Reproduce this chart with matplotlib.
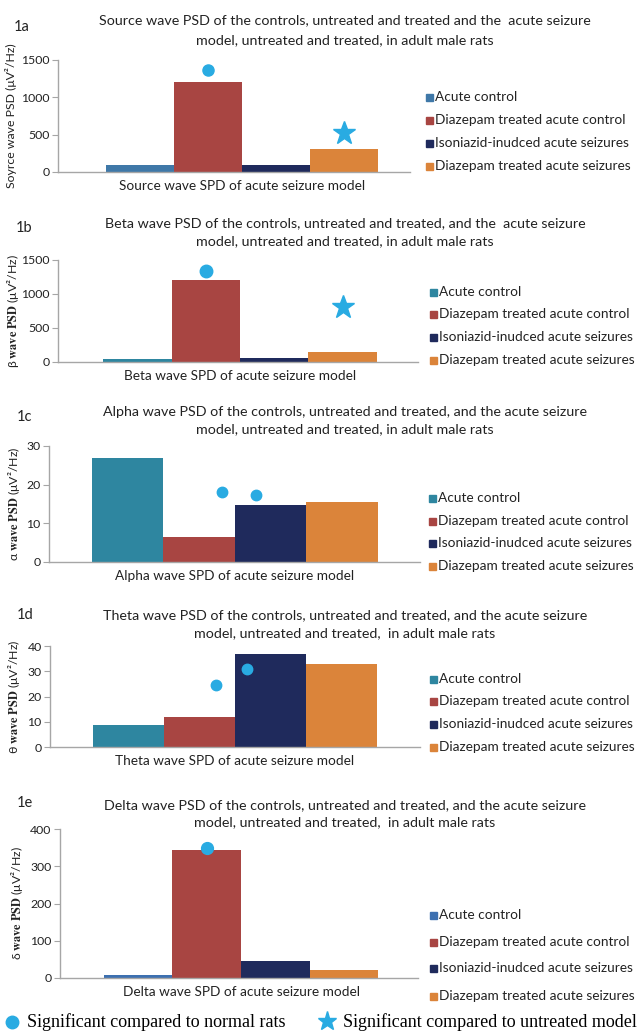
import matplotlib.pyplot as plt
from matplotlib.patches import Rectangle
from matplotlib.lines import Line2D

plt.rcParams['font.family'] = ['Lato', 'DejaVu Sans']
plt.rcParams['mathtext.fontset'] = 'stix'

# Data
groups = ['Acute control', 'Diazepam treated acute control',
          'Isoniazid-inudced acute seizures', 'Diazepam treated acute seizures']
source_psd = [95, 1210, 100, 305]
beta_psd = [40, 1205, 60, 145]
alpha_psd = [27.0, 6.4, 14.7, 15.5]
theta_psd = [8.6, 11.8, 36.7, 32.7]
delta_psd = [7, 344, 45, 21]

# significance markers: (bar position, marker height)
source_normal = [(1, 1365)]
source_untreated = [(3, 520)]
beta_normal = [(1, 1340)]
beta_untreated = [(3, 810)]
alpha_normal = [(1.32, 18.1), (1.79, 17.2)]
theta_normal = [(1.23, 24.4), (1.67, 31.0)]
delta_normal = [(1, 348)]

W, H = 637, 1035
fig = plt.figure(figsize=(W / 100, H / 100), dpi=100)

red, navy, orange = '#A84542', '#1F2A5C', '#DB843A'
sig_col = '#29ABE2'
grey = '#A6A6A6'
txt = '#222222'

panels = [
    dict(tag='1a', vals=source_psd, ymax=1500, step=500, first='#3F78A8',
         px=(58, 410, 60, 172), xlim=(-1.2, 3.97), title_y=(20, 40), tag_xy=(22, 27),
         title=['Source wave PSD of the controls, untreated and treated and the  acute seizure',
                'model, untreated and treated, in adult male rats'],
         ylabel='Soyrce wave PSD (μV²/Hz)', ylab_x=11,
         xlabel='Source wave SPD of acute seizure model',
         leg_y=[97, 120, 143, 166], leg_x=426,
         normal=source_normal, untreated=source_untreated, dot=8),
    dict(tag='1b', vals=beta_psd, ymax=1500, step=500, first='#2E86A0',
         px=(58, 418, 260, 362), xlim=(-1.16, 4.1), title_y=(223, 241), tag_xy=(24, 228),
         title=['Beta wave PSD of the controls, untreated and treated, and the  acute seizure',
                'model, untreated and treated, in adult male rats'],
         ylabel=r'β $\mathbf{wave\ PSD}$ (μV²/Hz)', ylab_x=13,
         xlabel='Beta wave SPD of acute seizure model',
         leg_y=[292, 314, 337, 360], leg_x=430,
         normal=beta_normal, untreated=beta_untreated, dot=9),
    dict(tag='1c', vals=alpha_psd, ymax=30, step=10, first='#2E86A0',
         px=(49, 420, 446, 562), xlim=(-1.1, 4.09), title_y=(412, 429), tag_xy=(25, 417),
         title=['Alpha wave PSD of the controls, untreated and treated, and the acute seizure',
                'model, untreated and treated, in adult male rats'],
         ylabel=r'α $\mathbf{wave\ PSD}$ (μV²/Hz)', ylab_x=14,
         xlabel='Alpha wave SPD of acute seizure model',
         leg_y=[498, 521, 543, 566], leg_x=429,
         normal=alpha_normal, untreated=[], dot=7.5),
    dict(tag='1d', vals=theta_psd, ymax=40, step=10, first='#2E86A0',
         px=(50, 420, 646, 747), xlim=(-1.1, 4.1), title_y=(615, 633), tag_xy=(25, 615),
         title=['Theta wave PSD of the controls, untreated and treated, and the acute seizure',
                'model, untreated and treated,  in adult male rats'],
         ylabel=r'θ $\mathbf{wave\ PSD}$ (μV²/Hz)', ylab_x=14,
         xlabel='Theta wave SPD of acute seizure model',
         leg_y=[679, 701, 724, 747], leg_x=430,
         normal=theta_normal, untreated=[], dot=7.5),
    dict(tag='1e', vals=delta_psd, ymax=400, step=100, first='#3D70B0',
         px=(60, 418, 829, 978), xlim=(-1.14, 4.08), title_y=(805, 822), tag_xy=(25, 803),
         title=['Delta wave PSD of the controls, untreated and treated, and the acute seizure',
                'model, untreated and treated,  in adult male rats'],
         ylabel=r'δ $\mathbf{wave\ PSD}$ (μV²/Hz)', ylab_x=17,
         xlabel='Delta wave SPD of acute seizure model',
         leg_y=[915, 942, 968, 996], leg_x=430,
         normal=delta_normal, untreated=[], dot=8.5),
]

for p in panels:
    x0, x1, ytop, yzero = p['px']
    ax = fig.add_axes([x0 / W, 1 - yzero / H, (x1 - x0) / W, (yzero - ytop) / H])
    colors = [p['first'], red, navy, orange]
    ax.bar(range(4), p['vals'], width=1.0, color=colors, zorder=2)
    ax.set_xlim(*p['xlim'])
    ax.set_ylim(0, p['ymax'])
    ax.set_yticks(range(0, p['ymax'] + 1, p['step']))
    ax.set_xticks([])
    for s in ['top', 'right']:
        ax.spines[s].set_visible(False)
    for s in ['left', 'bottom']:
        ax.spines[s].set_color(grey)
        ax.spines[s].set_linewidth(1.0)
    ax.tick_params(axis='y', length=4, color=grey, labelsize=8.8, labelcolor=txt, pad=2)
    ax.patch.set_alpha(0)

    for xm, ym in p['normal']:
        ax.plot(xm, ym, 'o', color=sig_col, markersize=p['dot'], zorder=3, clip_on=False)
    for xm, ym in p['untreated']:
        ax.plot(xm, ym, '*', color=sig_col, markersize=17, zorder=3, clip_on=False)

    ax.annotate(p['xlabel'], xy=(1.5, 0), xycoords=('data', 'axes fraction'),
                xytext=(0, -10), textcoords='offset points', ha='center', va='center',
                fontsize=9.8, color=txt)

    fig.text(p['ylab_x'] / W, 1 - (ytop + yzero) / 2 / H, p['ylabel'], rotation=90,
             ha='center', va='center', fontsize=8.8, color=txt)

    for line, ty in zip(p['title'], p['title_y']):
        fig.text(345 / W, 1 - ty / H, line, ha='center', va='center', fontsize=10.3,
                 color=txt)
    fig.text(p['tag_xy'][0] / W, 1 - p['tag_xy'][1] / H, p['tag'], ha='center',
             va='center', fontsize=10.5, color=txt)

    for lab, col, ly in zip(groups, colors, p['leg_y']):
        fig.patches.append(Rectangle((p['leg_x'] / W, 1 - (ly + 3.5) / H), 7 / W, 7 / H,
                                     transform=fig.transFigure, color=col, figure=fig))
        fig.text((p['leg_x'] + 9) / W, 1 - ly / H, lab, ha='left', va='center',
                 fontsize=9.8, color=txt)

# bottom key
serif = ['Liberation Serif', 'DejaVu Serif']
fig.add_artist(Line2D([12 / W], [1 - 1022 / H], marker='o', color=sig_col,
                      markersize=9, transform=fig.transFigure))
fig.text(27 / W, 1 - 1022 / H, 'Significant compared to normal rats', ha='left',
         va='center', fontsize=13, family=serif)
fig.add_artist(Line2D([327 / W], [1 - 1021 / H], marker='*', color=sig_col,
                      markersize=14, transform=fig.transFigure))
fig.text(343 / W, 1 - 1022 / H, 'Significant compared to untreated model', ha='left',
         va='center', fontsize=13, family=serif)

fig.savefig('out.png', dpi=100)
